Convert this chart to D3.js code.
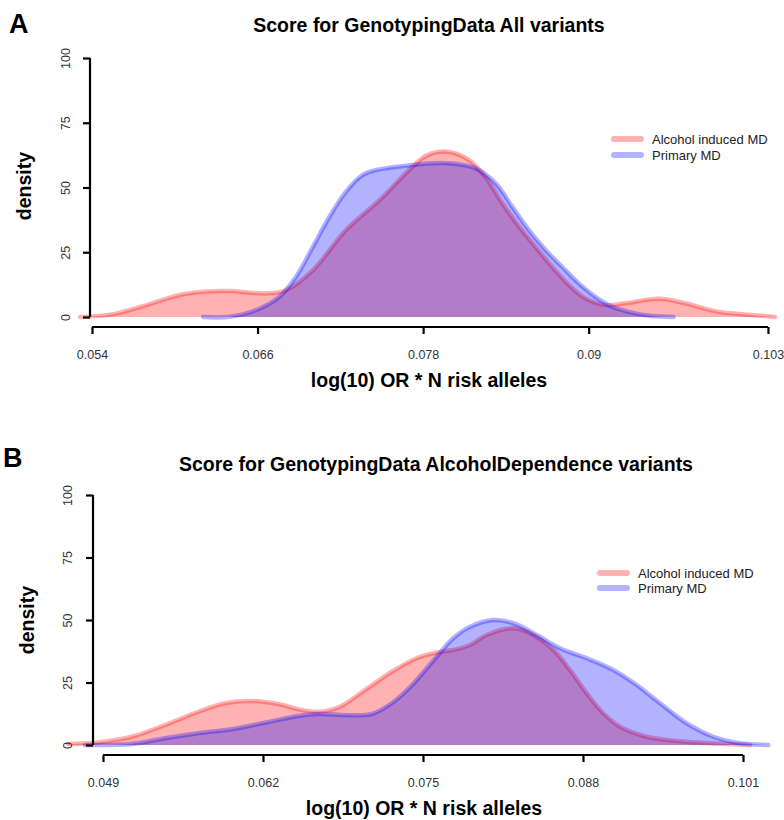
<!DOCTYPE html>
<html>
<head>
<meta charset="utf-8">
<script src="https://cdnjs.cloudflare.com/ajax/libs/d3/7.8.5/d3.min.js"></script>
<style>
    body { margin: 0; background: #fff; }
    text { font-family: "Liberation Sans", Arial, Helvetica, sans-serif; }
</style>
</head>
<body>
<script>

//Values: score (x) and density (y) along each curve
var seriesNames = ["Alcohol induced MD", "Primary MD"];

var alcoholAllX = [0.05313, 0.05554, 0.05795, 0.06036, 0.06229, 0.06398, 0.06663, 0.06808,
    0.07000, 0.07241, 0.07482, 0.07723, 0.07831, 0.07976, 0.08133, 0.08253, 0.08373,
    0.08494, 0.08615, 0.08735, 0.08856, 0.08976, 0.09121, 0.09265, 0.09506, 0.09699,
    0.09940, 0.10181, 0.10350];
var alcoholAllD = [0, 1.1, 4.6, 8.5, 9.8, 10, 9.1, 10.4, 18, 33.6, 45, 58, 62.5, 63.8,
    60.6, 54, 44, 35, 27, 19.4, 12.4, 7.2, 4.6, 5.3, 7, 5.3, 2, 0.8, 0];

var primaryAllX = [0.06205, 0.06398, 0.06591, 0.06759, 0.06880, 0.07000, 0.07121, 0.07241,
    0.07361, 0.07482, 0.07723, 0.07843, 0.08012, 0.08181, 0.08326, 0.08446, 0.08566,
    0.08687, 0.08807, 0.08928, 0.09049, 0.09169, 0.09338, 0.09458, 0.09615];
var primaryAllD = [0, 0.1, 2.7, 7.8, 15.6, 27, 38.7, 48.4, 54.8, 57, 58.7, 59.3, 59.3,
    57.4, 51.6, 42.6, 33.6, 25.9, 19.4, 13, 7.8, 4, 1.4, 0.4, 0];

var alcoholDepX = [0.04616, 0.04835, 0.05133, 0.05404, 0.05674, 0.05891, 0.06108, 0.06324,
    0.06487, 0.06649, 0.06812, 0.07029, 0.07246, 0.07462, 0.07611, 0.07746, 0.07882,
    0.08017, 0.08234, 0.08369, 0.08559, 0.08694, 0.08830, 0.08965, 0.09101, 0.09317,
    0.09642, 0.10157];
var alcoholDepD = [0.4, 0.9, 3.3, 8, 13.3, 16.7, 17.6, 16.4, 14.3, 13.3, 15, 22, 29.3, 35,
    37, 38, 40, 44, 46.7, 44.7, 38, 30, 20.7, 12.7, 7.3, 3.3, 1.3, 0];

var primaryDepX = [0.04754, 0.05133, 0.05404, 0.05674, 0.05946, 0.06216, 0.06487, 0.06649,
    0.06893, 0.07083, 0.07246, 0.07408, 0.07611, 0.07746, 0.07882, 0.08071,
    0.08234, 0.08424, 0.08613, 0.08830, 0.09046, 0.09236, 0.09426, 0.09642, 0.09859,
    0.10049, 0.10306];
var primaryDepD = [0, 0.4, 2.7, 4.7, 6.3, 8.9, 11.6, 12.4, 11.9, 12.4, 16.7, 23.8,
    35.3, 42.7, 47.3, 50, 48.7, 44, 38.7, 34.7, 30, 24, 16.7, 8.7, 3.3, 0.9, 0];

//Tick labels
var allTicksX = [0.054, 0.066, 0.078, 0.09, 0.103];
var depTicksX = [0.049, 0.062, 0.075, 0.088, 0.101];
var ticksY = [0, 25, 50, 75, 100];

var fills = ["rgba(255,0,0,0.3)", "rgba(0,0,255,0.3)"];

var svg = d3.select("body").append("svg")
        .attr("width", 784)
        .attr("height", 820);

function zip(xs, ds) {
    return xs.map(function(x, i) { return [x, ds[i]]; });
}

///////////////////////////////////////////////////////////////////////////
////////////////////////////// One panel //////////////////////////////////
///////////////////////////////////////////////////////////////////////////

function drawPanel(p) {
    var x = d3.scaleLinear().domain([p.ticksX[0], p.ticksX[p.ticksX.length - 1]])
            .range([p.x0, p.x1]);
    var y = d3.scaleLinear().domain([0, 100]).range([p.y0, p.y1]);

    var g = svg.append("g");

    //panel letter and title
    g.append("text")
            .attr("x", p.letterX).attr("y", p.letterY)
            .style("font-size", "27px").style("font-weight", "bold")
            .text(p.letter);
    g.append("text")
            .attr("x", p.titleX).attr("y", p.titleY)
            .attr("text-anchor", "middle")
            .style("font-size", "19.5px").style("font-weight", "bold")
            .text(p.title);

    //density polygons, red first then blue on top
    var area = d3.area()
            .x(function(d) { return x(d[0]); })
            .y0(y(0))
            .y1(function(d) { return y(d[1]); })
            .curve(d3.curveCatmullRom.alpha(0.5));
    var line = area.lineY1();

    p.series.forEach(function(s, i) {
        g.append("path")
                .datum(s)
                .attr("d", area)
                .attr("fill", fills[i]);
        g.append("path")
                .datum(s)
                .attr("d", line)
                .attr("fill", "none")
                .attr("stroke", fills[i])
                .attr("stroke-width", 4.5)
                .attr("stroke-linecap", "round")
                .attr("stroke-linejoin", "round");
    });

    //y axis (R style: rotated labels)
    var ya = g.append("g")
            .attr("transform", "translate(" + p.yAxisX + ",0)")
            .call(d3.axisLeft(y).tickValues(ticksY).tickSize(7).tickFormat(d3.format("d")));
    ya.select(".domain").attr("stroke-width", 2.2).attr("d", "M0," + y(0) + "V" + y(100));
    ya.selectAll(".tick line").attr("stroke-width", 2.2);
    ya.selectAll(".tick text")
            .attr("x", 0).attr("dy", null)
            .attr("transform", "translate(" + (p.yLabelX - p.yAxisX) + ",0) rotate(-90)")
            .attr("text-anchor", "middle")
            .attr("dominant-baseline", "central")
            .attr("fill", "#333")
            .style("font-size", "12.5px").style("font-family", null);

    //x axis
    var xa = g.append("g")
            .attr("transform", "translate(0," + p.xAxisY + ")")
            .call(d3.axisBottom(x).tickValues(p.ticksX).tickSize(7).tickFormat(function(d) { return String(d); }));
    xa.select(".domain").attr("stroke-width", 2.2).attr("d", "M" + p.x0 + ",0H" + p.x1);
    xa.selectAll(".tick line").attr("stroke-width", 2.2);
    xa.selectAll(".tick text")
            .attr("y", 28).attr("dy", "0.35em")
            .attr("fill", "#333")
            .style("font-size", "12.5px").style("font-family", null);

    //axis titles
    g.append("text")
            .attr("transform", "translate(" + p.densityX + "," + p.densityY + ") rotate(-90)")
            .attr("text-anchor", "middle")
            .style("font-size", "19.5px").style("font-weight", "bold")
            .text("density");
    g.append("text")
            .attr("x", p.xTitleX).attr("y", p.xTitleY)
            .attr("text-anchor", "middle")
            .style("font-size", "19.5px").style("font-weight", "bold")
            .text("log(10) OR * N risk alleles");

    //legend
    var lg = g.append("g");
    seriesNames.forEach(function(name, i) {
        var ly = p.legendY + i * p.legendStep;
        lg.append("line")
                .attr("x1", p.legendX).attr("x2", p.legendX + 27)
                .attr("y1", ly).attr("y2", ly)
                .attr("stroke", fills[i])
                .attr("stroke-width", 6)
                .attr("stroke-linecap", "round");
        lg.append("text")
                .attr("x", p.legendX + 38).attr("y", ly)
                .attr("dominant-baseline", "central")
                .attr("fill", "#222")
                .style("font-size", "13px")
                .text(name);
    });
}

drawPanel({
    letter: "A", letterX: 9, letterY: 33,
    title: "Score for GenotypingData All variants", titleX: 429, titleY: 32,
    ticksX: allTicksX, x0: 92, x1: 768, y0: 317, y1: 58,
    yAxisX: 90, yLabelX: 66, xAxisY: 327,
    densityX: 31, densityY: 186, xTitleX: 429, xTitleY: 387,
    legendX: 614, legendY: 139, legendStep: 16,
    series: [zip(alcoholAllX, alcoholAllD), zip(primaryAllX, primaryAllD)]
});

drawPanel({
    letter: "B", letterX: 3, letterY: 467,
    title: "Score for GenotypingData AlcoholDependence variants", titleX: 436, titleY: 471,
    ticksX: depTicksX, x0: 103, x1: 743, y0: 745, y1: 495,
    yAxisX: 93, yLabelX: 68, xAxisY: 755,
    densityX: 34, densityY: 620, xTitleX: 424, xTitleY: 815,
    legendX: 600, legendY: 573, legendStep: 15,
    series: [zip(alcoholDepX, alcoholDepD), zip(primaryDepX, primaryDepD)]
});

</script>
</body>
</html>
